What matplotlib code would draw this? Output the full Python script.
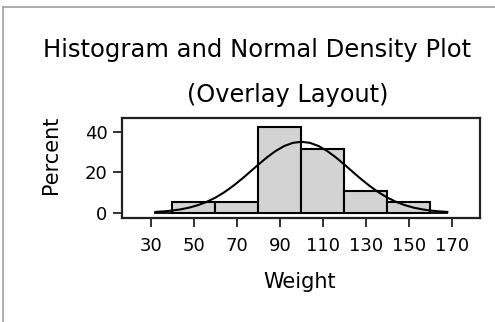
import matplotlib
matplotlib.use("Agg")
import matplotlib.pyplot as plt
from matplotlib.lines import Line2D

# histogram bins (Weight) and bar heights in percent
bin_edges = [40, 60, 80, 100, 120, 140, 160]
percent = [5.26, 5.26, 42.11, 31.58, 10.53, 5.26]

# normal density curve (percent scale)
curve_x = [32, 36, 40, 44, 48, 52, 56, 60, 64, 68, 72, 76, 80, 84, 88, 92, 96,
           100, 104, 108, 112, 116, 120, 124, 128, 132, 136, 140, 144, 148,
           152, 156, 160, 164, 168]
curve_y = [0.40, 0.67, 1.08, 1.70, 2.58, 3.79, 5.40, 7.47, 10.02, 13.03, 16.43,
           20.08, 23.80, 27.35, 30.47, 32.93, 34.50, 35.04, 34.51, 32.96, 30.52,
           27.40, 23.85, 20.13, 16.48, 13.08, 10.06, 7.51, 5.43, 3.81, 2.59,
           1.71, 1.09, 0.68, 0.41]

x_ticks = [30, 50, 70, 90, 110, 130, 150, 170]
y_ticks = [0, 20, 40]

plt.rcParams["font.family"] = "DejaVu Sans"

fig = plt.figure(figsize=(4.95, 3.22), dpi=100)
ax = fig.add_axes([0.2465, 0.323, 0.7232, 0.3106])

lefts = bin_edges[:-1]
widths = [b - a for a, b in zip(bin_edges[:-1], bin_edges[1:])]
ax.bar(lefts, percent, width=widths, align="edge", color="#d3d3d3",
       edgecolor="black", linewidth=1.5, zorder=2)

# baseline under the density curve
ax.plot([curve_x[0], curve_x[-1]], [0, 0], color="black", lw=1.3, zorder=3)
ax.plot(curve_x, curve_y, color="black", lw=1.5, zorder=4)

ax.set_xlim(16.5, 183.2)
ax.set_ylim(-2.6, 46.8)
ax.set_xticks(x_ticks)
ax.set_yticks(y_ticks)
ax.tick_params(axis="both", labelsize=13, length=6.5, width=1.3, color="#222222")
ax.tick_params(axis="x", pad=7)
ax.tick_params(axis="y", pad=4)
for sp in ax.spines.values():
    sp.set_linewidth(1.6)
    sp.set_color("#222222")

fig.text(0.103, 0.518, "Percent", rotation=90, fontsize=15, ha="center", va="center")
fig.text(0.606, 0.105, "Weight", fontsize=15, ha="center", va="baseline")

fig.text(0.5186, 0.822, "Histogram and Normal Density Plot", fontsize=17.5,
         ha="center", va="baseline")
fig.text(0.5808, 0.684, "(Overlay Layout)", fontsize=17.3, ha="center", va="baseline")

# outer frame (top and left edges visible)
fig.add_artist(Line2D([0.006, 1.0], [0.978, 0.978], color="#a0a0a0", lw=1.2,
                      transform=fig.transFigure))
fig.add_artist(Line2D([0.006, 0.006], [0.0, 0.978], color="#a0a0a0", lw=1.2,
                      transform=fig.transFigure))

fig.savefig("out.png", dpi=100)
